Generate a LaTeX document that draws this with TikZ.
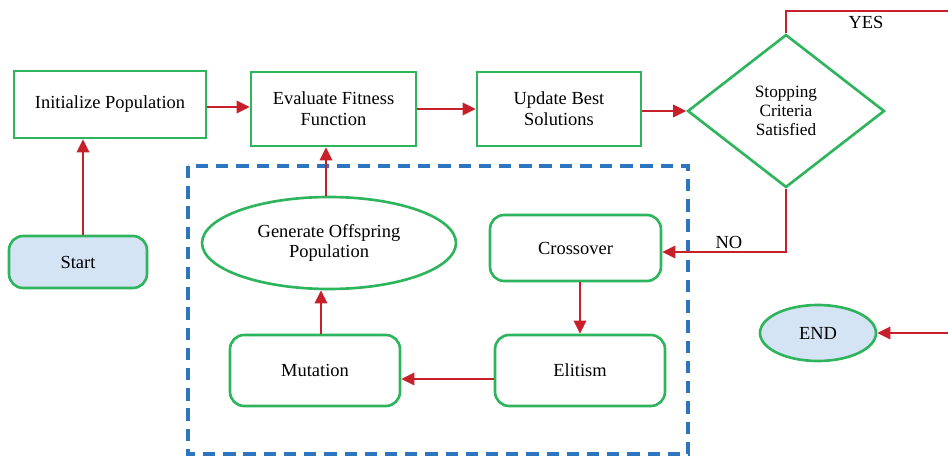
\documentclass[tikz,border=0pt]{standalone}
\usepackage{fontspec}
\setmainfont{Liberation Serif}
\usetikzlibrary{shapes.geometric,arrows.meta}
\definecolor{boxgreen}{RGB}{46,180,92}
\definecolor{arrred}{RGB}{200,32,42}
\definecolor{dashblue}{RGB}{46,117,192}
\definecolor{fillblue}{RGB}{213,228,244}
\begin{document}
\begin{tikzpicture}[x=0.02cm,y=-0.02cm,
  every node/.style={font=\fontsize{10.5}{11.8}\selectfont, inner sep=0pt, align=center},
  sqbox/.style={draw=boxgreen, line width=1.5pt, rectangle},
  rbox/.style={draw=boxgreen, line width=1.5pt, rectangle, rounded corners=8pt},
  ovalbox/.style={draw=boxgreen, line width=1.5pt, ellipse},
  decbox/.style={draw=boxgreen, line width=1.5pt, diamond, font=\fontsize{9.8}{10.9}\selectfont},
  conn/.style={draw=arrred, line width=1.5pt, -{Triangle[length=7.5pt,width=7pt]}},
  plainline/.style={draw=arrred, line width=1.5pt},
  lbl/.style={font=\fontsize{10.5}{11}\selectfont}
]
\useasboundingbox (0,0) rectangle (948,456);
% dashed group
\draw[dashblue, line width=1.8pt, dash pattern=on 7pt off 4.5pt] (188,166) rectangle (688,454);

\node[sqbox, minimum width=3.84cm, minimum height=1.34cm] (init) at (110,104.5) {Initialize Population};
\node[sqbox, minimum width=3.30cm, minimum height=1.48cm] (eval) at (333.5,109) {Evaluate Fitness\\Function};
\node[sqbox, minimum width=3.28cm, minimum height=1.48cm] (upd) at (559,109) {Update Best\\Solutions};
\node[decbox, minimum width=3.94cm, minimum height=3.06cm] (stop) at (786,111) {Stopping\\Criteria\\Satisfied};
\node[rbox, fill=fillblue, minimum width=2.76cm, minimum height=1.04cm] (start) at (78,262) {Start};
\node[ovalbox, minimum width=5.08cm, minimum height=1.84cm] (gen) at (329,243) {Generate Offspring\\Population};
\node[rbox, minimum width=3.42cm, minimum height=1.32cm] (cross) at (575.5,248) {Crossover};
\node[rbox, minimum width=3.40cm, minimum height=1.42cm] (elit) at (580,370.5) {Elitism};
\node[rbox, minimum width=3.40cm, minimum height=1.42cm] (mut) at (315,370.5) {Mutation};
\node[ovalbox, fill=fillblue, minimum width=2.32cm, minimum height=1.12cm] (end) at (818,333) {END};

\coordinate (yesA) at (786,11);
\coordinate (yesB) at (950,11);
\coordinate (noA) at (786,252);
\coordinate (endR) at (950,333);

\draw[conn] (start.north -| 83,0) -- (init.south -| 83,0);
\draw[conn] (init.east |- 0,107) -- (eval.west |- 0,107);
\draw[conn] (eval.east) -- (upd.west);
\draw[conn] (upd.east |- 0,111) -- (stop.west);
\draw[conn] (gen.north -| 326,0) -- (eval.south -| 326,0);
\draw[conn] (cross.south -| 580,0) -- (elit.north -| 580,0);
\draw[conn] (elit.west |- 0,379) -- (mut.east |- 0,379);
\draw[conn] (mut.north -| 321,0) -- (gen.south -| 321,0);
\draw[plainline] (stop.north) -- (yesA) -- (yesB);
\draw[conn] (stop.south) -- (noA) -- (cross.east |- noA);
\draw[conn] (endR) -- (end.east);

\node[lbl] (yes) at (866,22) {YES};
\node[lbl] (no) at (729,242) {NO};
\end{tikzpicture}
\end{document}
